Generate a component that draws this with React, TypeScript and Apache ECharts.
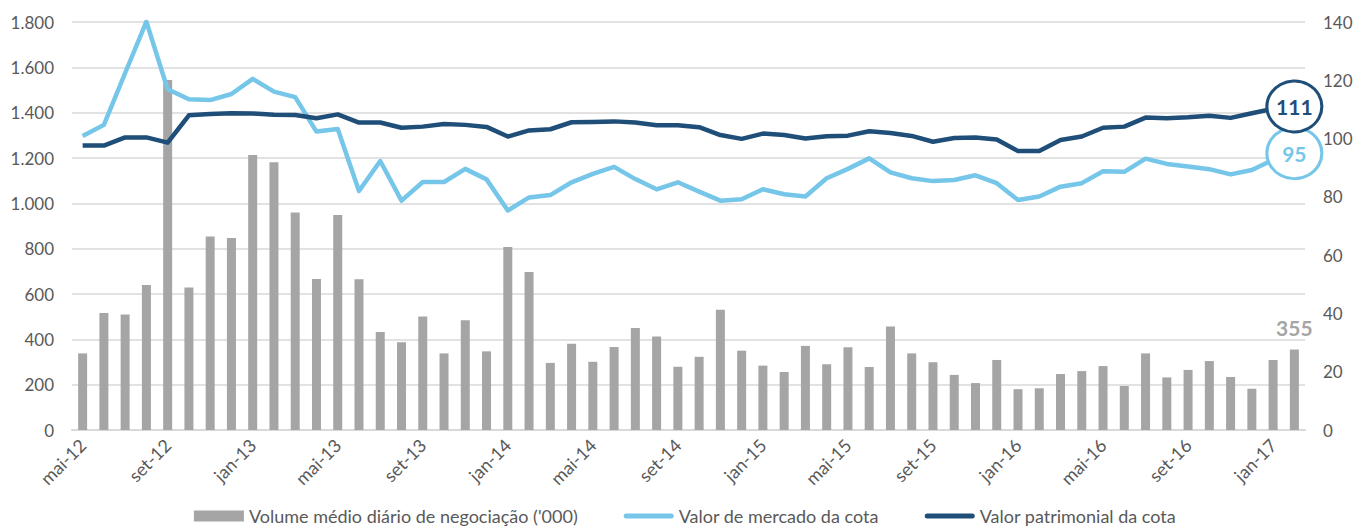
import React, { useEffect, useRef } from "react";
import * as echarts from "echarts";

const categories = [
  "mai-12", "jun-12", "jul-12", "ago-12", "set-12", "out-12", "nov-12", "dez-12",
  "jan-13", "fev-13", "mar-13", "abr-13", "mai-13", "jun-13", "jul-13", "ago-13", "set-13", "out-13", "nov-13", "dez-13",
  "jan-14", "fev-14", "mar-14", "abr-14", "mai-14", "jun-14", "jul-14", "ago-14", "set-14", "out-14", "nov-14", "dez-14",
  "jan-15", "fev-15", "mar-15", "abr-15", "mai-15", "jun-15", "jul-15", "ago-15", "set-15", "out-15", "nov-15", "dez-15",
  "jan-16", "fev-16", "mar-16", "abr-16", "mai-16", "jun-16", "jul-16", "ago-16", "set-16", "out-16", "nov-16", "dez-16",
  "jan-17", "fev-17",
];

const volume = [
  338, 516, 510, 640, 1544, 629, 854, 847, 1213, 1181, 960, 666, 948, 665, 432, 387, 501, 338,
  484, 347, 807, 697, 296, 381, 301, 366, 450, 412, 279, 323, 531, 350, 284, 256, 371, 290, 365, 278, 457,
  338, 299, 243, 207, 309, 180, 184, 247, 260, 282, 194, 338, 232, 265, 304, 234, 182, 309, 355,
];

const mercado = [
  100.9, 104.7, 122.5, 140.1, 116.9, 113.5, 113.2, 115.3, 120.5, 116.1, 114.2, 102.4, 103.3, 82.0, 92.3, 78.7, 85.1, 85.1,
  89.6, 86.0, 75.3, 79.8, 80.6, 85.0, 87.9, 90.3, 86.1, 82.6, 85.0, 81.8, 78.7, 79.2, 82.6, 80.9, 80.1, 86.4, 89.6, 93.2, 88.4,
  86.4, 85.4, 85.8, 87.4, 84.7, 78.9, 80.1, 83.5, 84.7, 88.8, 88.6, 93.1, 91.3, 90.4, 89.5, 87.7, 89.2, 92.7, 95,
];

const patrimonial = [
  97.6, 97.6, 100.4, 100.4, 98.6, 108.0, 108.4, 108.7, 108.6, 108.2, 108.1, 107.0, 108.3, 105.5, 105.5, 103.7, 104.1, 105.0,
  104.7, 104.0, 100.7, 102.8, 103.2, 105.6, 105.7, 105.9, 105.5, 104.6, 104.6, 103.9, 101.2, 99.9, 101.7, 101.2, 100.0, 100.8, 101.0, 102.5, 101.9,
  100.9, 98.9, 100.2, 100.4, 99.7, 95.7, 95.7, 99.5, 100.7, 103.7, 104.1, 107.2, 107.0, 107.3, 107.8, 107.1, 108.7, 110.2, 111,
];

const seriesNames = [
  "Volume médio diário de negociação ('000)",
  "Valor de mercado da cota",
  "Valor patrimonial da cota",
];

const GRAY = "#a5a5a5";
const LIGHT = "#75c6e8";
const DARK = "#1f4e79";
const TEXT = "#595959";
const FONT = "Lato, 'Open Sans', sans-serif";
const LINE_ICON = "path://M2.5,0 L47.5,0 A2.5,2.5 0 0 1 47.5,5 L2.5,5 A2.5,2.5 0 0 1 2.5,0 Z";

export default function App() {
  const ref = useRef<HTMLDivElement>(null);
  useEffect(() => {
    document.body.style.margin = "0";
    document.body.style.overflow = "hidden";
    if (!ref.current) return;
    const chart = echarts.init(ref.current, null, { renderer: "svg" });
    const last = volume.length - 1;
    const lastCat = categories[last];
    chart.setOption({
      animation: false,
      textStyle: { fontFamily: FONT },
      grid: { left: 72, right: 65, top: 22, bottom: 99, containLabel: false },
      legend: {
        top: 505,
        left: "center",
        padding: 0,
        itemWidth: 50,
        itemHeight: 11,
        itemGap: 46,
        symbolKeepAspect: true,
        textStyle: { fontSize: 18, color: TEXT, fontFamily: FONT, lineHeight: 22 },
        data: [
          { name: seriesNames[0], icon: "rect" },
          { name: seriesNames[1], icon: LINE_ICON, itemStyle: { color: LIGHT } },
          { name: seriesNames[2], icon: LINE_ICON, itemStyle: { color: DARK } },
        ],
      },
      xAxis: {
        type: "category",
        data: categories,
        boundaryGap: true,
        axisTick: { show: false },
        axisLine: { lineStyle: { color: "#d9d9d9", width: 2 } },
        axisLabel: { interval: 3, rotate: 45, fontSize: 18, color: TEXT, margin: 12, fontFamily: FONT },
      },
      yAxis: [
        {
          type: "value",
          min: 0,
          max: 1800,
          interval: 200,
          axisLine: { show: false },
          axisTick: { show: false },
          splitLine: { lineStyle: { color: "#d9d9d9", width: 1.5 } },
          axisLabel: {
            fontSize: 17,
            color: TEXT,
            margin: 18,
            fontFamily: FONT,
            formatter: (v: number) => v.toLocaleString("de-DE"),
          },
        },
        {
          type: "value",
          min: 0,
          max: 140,
          interval: 20,
          axisLine: { show: false },
          axisTick: { show: false },
          splitLine: { show: false },
          axisLabel: { fontSize: 17, color: TEXT, margin: 18, fontFamily: FONT },
        },
      ],
      series: [
        {
          name: seriesNames[0],
          type: "bar",
          barWidth: 9,
          itemStyle: { color: GRAY },
          data: volume.map((v, i) =>
            i === last
              ? {
                  value: v,
                  label: {
                    show: true,
                    position: "top",
                    distance: 12,
                    color: GRAY,
                    fontWeight: "bold",
                    fontSize: 21,
                    fontFamily: FONT,
                  },
                }
              : v
          ),
        },
        {
          name: seriesNames[1],
          type: "line",
          yAxisIndex: 1,
          symbol: "none",
          showSymbol: false,
          lineStyle: { color: LIGHT, width: 4.5, join: "round" },
          itemStyle: { color: LIGHT },
          data: mercado,
          markPoint: {
            symbol: "circle",
            symbolSize: [55, 51],
            itemStyle: { color: "#ffffff", borderColor: LIGHT, borderWidth: 3 },
            label: {
              show: true,
              position: "inside",
              color: LIGHT,
              fontWeight: "bold",
              fontSize: 21,
              fontFamily: FONT,
              formatter: String(mercado[last]),
            },
            data: [{ coord: [lastCat, mercado[last]] }],
          },
        },
        {
          name: seriesNames[2],
          type: "line",
          yAxisIndex: 1,
          symbol: "none",
          showSymbol: false,
          lineStyle: { color: DARK, width: 4.5, join: "round" },
          itemStyle: { color: DARK },
          data: patrimonial,
          markPoint: {
            symbol: "circle",
            symbolSize: [55, 51],
            itemStyle: { color: "#ffffff", borderColor: DARK, borderWidth: 3 },
            label: {
              show: true,
              position: "inside",
              color: DARK,
              fontWeight: "bold",
              fontSize: 21,
              fontFamily: FONT,
              formatter: String(patrimonial[last]),
            },
            data: [{ coord: [lastCat, patrimonial[last]] }],
          },
        },
      ],
    });
    return () => chart.dispose();
  }, []);
  return <div ref={ref} style={{ width: 1370, height: 529 }} />;
}
